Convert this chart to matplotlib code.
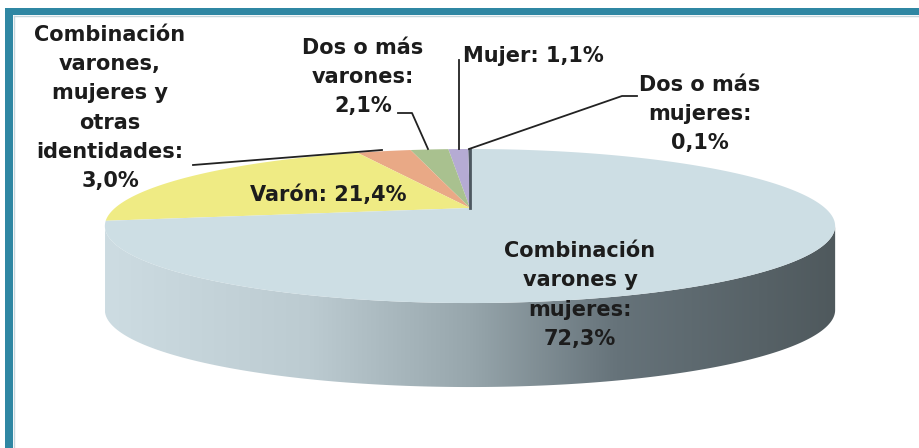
import numpy as np
import matplotlib.pyplot as plt
from matplotlib.patches import Polygon, Rectangle
from matplotlib.colors import LinearSegmentedColormap

# datos (sentido antihorario desde las 12)
categorias = ["Dos o más mujeres", "Mujer", "Dos o más varones",
              "Combinación varones, mujeres y otras identidades",
              "Varón", "Combinación varones y mujeres"]
porcentajes = [0.1, 1.1, 2.1, 3.0, 21.4, 72.3]
colores = ["#4d5860", "#b5abd3", "#a9c18f", "#e9a986", "#efeb84", "#cddee4"]

etiquetas = ["Dos o más\nmujeres:\n0,1%", "Mujer: 1,1%", "Dos o más\nvarones:\n2,1%",
             "Combinación\nvarones,\nmujeres y\notras\nidentidades:\n3,0%",
             "Varón: 21,4%", "Combinación\nvarones y\nmujeres:\n72,3%"]

W, H = 919, 448
fig = plt.figure(figsize=(W / 100, H / 100), dpi=100)
ax = fig.add_axes([0, 0, 1, 1])
ax.set_xlim(0, W)
ax.set_ylim(H, 0)
ax.axis("off")

# geometría de la torta en perspectiva
cx, cy = 470, 208      # vértice (centro de la torta)
a, c, k = 355, 72.8, 0.234
prof = 84


def proj(t, dz=0):
    u, v = np.cos(t), np.sin(t)
    w = 1 + k * v
    return cx + a * u / w, cy - c * v / w + dz


# lateral visible con degradé
tl = np.pi + np.arcsin(k)
tr = 2 * np.pi - np.arcsin(k)
ts = np.linspace(tl, tr, 200)
xs, ys = proj(ts)
xb, yb = proj(ts[::-1], prof)
lado = np.column_stack([np.r_[xs, xb], np.r_[ys, yb]])
poly = Polygon(lado, closed=True, facecolor="none", edgecolor="none")
ax.add_patch(poly)
grad = LinearSegmentedColormap.from_list("g", [
    (0.0, "#cddce2"), (0.28, "#bccbd1"), (0.5, "#97a6ac"),
    (0.7, "#66737a"), (1.0, "#4f595d")])
img = ax.imshow(np.linspace(0, 1, 256)[None, :], cmap=grad, aspect="auto",
                extent=[xs.min(), xs.max(), yb.max() + 2, ys.min() - 2],
                zorder=1)
img.set_clip_path(poly)

# porciones de la cara superior
frac = np.array(porcentajes) / sum(porcentajes)
ini = np.pi / 2
for f, col in zip(frac, colores):
    t = np.linspace(ini, ini + f * 2 * np.pi, max(3, int(f * 720)))
    px, py = proj(t)
    pts = np.column_stack([np.r_[cx, px], np.r_[cy, py]])
    ax.add_patch(Polygon(pts, closed=True, facecolor=col, edgecolor="none", zorder=2))
    ini += f * 2 * np.pi

# porción mínima (0,1%) como línea oscura
x0, y0 = proj(np.pi / 2)
ax.plot([cx, x0], [cy, y0], color="#4d5860", lw=2, zorder=3)

# marco
borde = "#2f87a3"
ax.add_patch(Rectangle((5, 8), W - 5, 7, facecolor=borde, edgecolor="none", zorder=5))
ax.add_patch(Rectangle((5, 8), 8, H - 8, facecolor=borde, edgecolor="none", zorder=5))
ax.plot([14, 14], [16, H], color="#c5d6dc", lw=1, zorder=5)
ax.plot([14, W], [16, 16], color="#c5d6dc", lw=1, zorder=5)

# textos
fs = 15
tc = "#1c1c1c"
opts = dict(fontsize=fs, fontweight="bold", color=tc, ha="center", va="center",
            linespacing=1.57, zorder=6)
ax.text(110, 108, etiquetas[3], **opts)
ax.text(363, 77, etiquetas[2], **opts)
ax.text(533, 56, etiquetas[1], **opts)
ax.text(700, 114, etiquetas[0], **opts)
ax.text(328, 195, etiquetas[4], **opts)
ax.text(580, 295, etiquetas[5], **opts)

# líneas guía
lc = "#222222"
ax.plot([193, 382], [165, 150], color=lc, lw=1.3, zorder=4)
ax.plot([398, 412, 428], [113, 113, 149], color=lc, lw=1.3, zorder=4)
ax.plot([459, 459], [60, 149], color=lc, lw=1.3, zorder=4)
ax.plot([637, 622, 469], [96, 96, 149], color=lc, lw=1.3, zorder=4)

fig.savefig("out.png", dpi=100, facecolor="white")
